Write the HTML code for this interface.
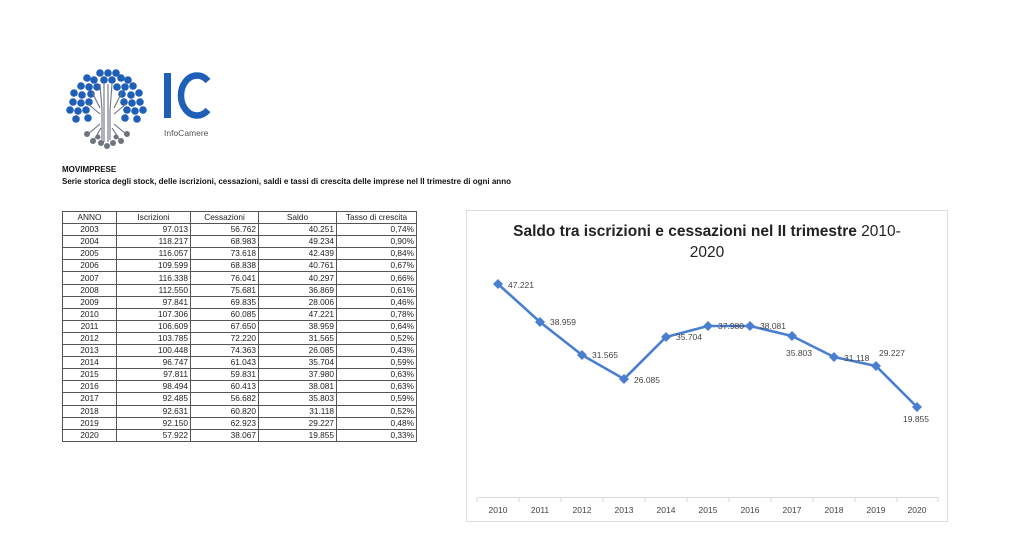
<!DOCTYPE html>
<html><head><meta charset="utf-8"><style>
html,body{margin:0;padding:0;background:#fff;width:1024px;height:553px;overflow:hidden;font-family:"Liberation Sans",sans-serif}
.a{position:absolute}
table{position:absolute;left:62px;top:211px;width:354px;table-layout:fixed;border-collapse:collapse;font-size:8.3px;color:#222}
td{border:1px solid #555;height:11.1px;padding:0 2px;line-height:11px;text-align:right;overflow:hidden;white-space:nowrap}
td:first-child{text-align:center}
tr.h td{text-align:center}
</style></head><body>
<svg class="a" style="left:0;top:0" width="1024" height="553">
<g fill="#1f5fb8">
<circle cx="100" cy="73" r="3.8"/><circle cx="108" cy="73" r="3.8"/><circle cx="116" cy="73" r="3.8"/>
<circle cx="87" cy="78" r="3.8"/><circle cx="94" cy="80" r="3.8"/><circle cx="104" cy="80" r="3.8"/><circle cx="112" cy="80" r="3.8"/><circle cx="121" cy="78" r="3.8"/><circle cx="128" cy="80" r="3.8"/>
<circle cx="81" cy="86" r="3.8"/><circle cx="89" cy="87" r="3.8"/><circle cx="97" cy="87" r="3.8"/><circle cx="117" cy="87" r="3.8"/><circle cx="125" cy="87" r="3.8"/><circle cx="133" cy="86" r="3.8"/>
<circle cx="74" cy="93" r="3.8"/><circle cx="82" cy="95" r="3.8"/><circle cx="91" cy="94" r="3.8"/><circle cx="122" cy="94" r="3.8"/><circle cx="131" cy="95" r="3.8"/><circle cx="139" cy="93" r="3.8"/>
<circle cx="73" cy="102" r="3.8"/><circle cx="81" cy="103" r="3.8"/><circle cx="89" cy="102" r="3.8"/><circle cx="124" cy="102" r="3.8"/><circle cx="132" cy="103" r="3.8"/><circle cx="140" cy="102" r="3.8"/>
<circle cx="70" cy="110" r="3.8"/><circle cx="78" cy="111" r="3.8"/><circle cx="86" cy="110" r="3.8"/><circle cx="127" cy="110" r="3.8"/><circle cx="135" cy="111" r="3.8"/><circle cx="143" cy="110" r="3.8"/>
<circle cx="76" cy="119" r="3.8"/><circle cx="88" cy="118" r="3.8"/><circle cx="125" cy="118" r="3.8"/><circle cx="137" cy="119" r="3.8"/>
</g>
<g stroke="#6d7480" stroke-width="1.1" fill="none">
<path d="M100 84 L102 110 L102 140"/><path d="M104 84 L104 110 L104 142"/><path d="M108 84 L108 110 L108 142"/><path d="M112 84 L110 110 L110 140"/>
<path d="M92 92 L100 108"/><path d="M122 92 L114 108"/><path d="M88 104 L100 114"/><path d="M126 104 L114 114"/>
<path d="M100 124 L88 134"/><path d="M114 124 L126 134"/><path d="M101 128 L94 140"/><path d="M112 128 L120 140"/>
</g>
<g fill="#6d7480">
<circle cx="87" cy="134" r="3"/><circle cx="127" cy="134" r="3"/><circle cx="93" cy="141" r="3"/><circle cx="121" cy="141" r="3"/>
<circle cx="101" cy="143" r="3"/><circle cx="107" cy="146" r="3"/><circle cx="113" cy="143" r="3"/><circle cx="98" cy="137" r="2.5"/><circle cx="116" cy="137" r="2.5"/>
</g>
<rect x="164" y="73" width="7" height="45" fill="#1f5fb8"/>
<path d="M208 81 A16 20 0 1 0 208 110" fill="none" stroke="#1f5fb8" stroke-width="6.5"/>
<text x="164" y="136" font-size="8.5" fill="#555">InfoCamere</text>
<text x="62" y="172" font-size="8" font-weight="bold" fill="#111">MOVIMPRESE</text>
<text x="62" y="184" font-size="8" font-weight="bold" fill="#111" textLength="449" lengthAdjust="spacingAndGlyphs">Serie storica degli stock, delle iscrizioni, cessazioni, saldi e tassi di crescita delle imprese nel II trimestre di ogni anno</text>

<rect x="466.5" y="210.5" width="481" height="311" fill="#fff" stroke="#ddd"/>
<text x="707" y="236" font-size="15.5" text-anchor="middle" fill="#222"><tspan font-weight="bold">Saldo tra iscrizioni e cessazioni nel II trimestre</tspan> 2010-</text>
<text x="707" y="257" font-size="15.5" text-anchor="middle" fill="#222">2020</text>
<line x1="477" y1="497.5" x2="938" y2="497.5" stroke="#d9d9d9"/>
<g stroke="#d9d9d9">
<line x1="477" y1="497" x2="477" y2="502"/><line x1="519" y1="497" x2="519" y2="502"/><line x1="561" y1="497" x2="561" y2="502"/><line x1="603" y1="497" x2="603" y2="502"/><line x1="645" y1="497" x2="645" y2="502"/><line x1="687" y1="497" x2="687" y2="502"/><line x1="729" y1="497" x2="729" y2="502"/><line x1="771" y1="497" x2="771" y2="502"/><line x1="813" y1="497" x2="813" y2="502"/><line x1="855" y1="497" x2="855" y2="502"/><line x1="897" y1="497" x2="897" y2="502"/><line x1="938" y1="497" x2="938" y2="502"/>
</g>
<g font-size="8.5" fill="#444" text-anchor="middle">
<text x="498" y="513">2010</text><text x="540" y="513">2011</text><text x="582" y="513">2012</text><text x="624" y="513">2013</text><text x="666" y="513">2014</text><text x="708" y="513">2015</text><text x="750" y="513">2016</text><text x="792" y="513">2017</text><text x="834" y="513">2018</text><text x="876" y="513">2019</text><text x="917" y="513">2020</text>
</g>
<polyline points="498,284 540,322 582,355 624,379 666,337 708,326 750,326 792,336 834,357 876,366 917,407" fill="none" stroke="#4a7fcf" stroke-width="2.6" stroke-linejoin="round"/>
<g fill="#4a7fcf">
<path d="M498 279l5 5-5 5-5-5z"/><path d="M540 317l5 5-5 5-5-5z"/><path d="M582 350l5 5-5 5-5-5z"/><path d="M624 374l5 5-5 5-5-5z"/><path d="M666 332l5 5-5 5-5-5z"/><path d="M708 321l5 5-5 5-5-5z"/><path d="M750 321l5 5-5 5-5-5z"/><path d="M792 331l5 5-5 5-5-5z"/><path d="M834 352l5 5-5 5-5-5z"/><path d="M876 361l5 5-5 5-5-5z"/><path d="M917 402l5 5-5 5-5-5z"/>
</g>
<g font-size="8.5" fill="#444">
<text x="508" y="288">47.221</text><text x="550" y="325">38.959</text><text x="592" y="358">31.565</text><text x="634" y="383">26.085</text><text x="676" y="340">35.704</text><text x="718" y="329">37.980</text><text x="760" y="329">38.081</text><text x="786" y="356">35.803</text><text x="844" y="361">31.118</text><text x="879" y="356">29.227</text><text x="903" y="422">19.855</text>
</g>
</svg>
<table>
<colgroup><col style="width:54px"><col style="width:74px"><col style="width:68px"><col style="width:78px"><col style="width:80px"></colgroup>
<tr class="h"><td>ANNO</td><td style="text-align:center">Iscrizioni</td><td style="text-align:center">Cessazioni</td><td style="text-align:center">Saldo</td><td style="text-align:center">Tasso di crescita</td></tr>
<tr><td>2003</td><td>97.013</td><td>56.762</td><td>40.251</td><td>0,74%</td></tr>
<tr><td>2004</td><td>118.217</td><td>68.983</td><td>49.234</td><td>0,90%</td></tr>
<tr><td>2005</td><td>116.057</td><td>73.618</td><td>42.439</td><td>0,84%</td></tr>
<tr><td>2006</td><td>109.599</td><td>68.838</td><td>40.761</td><td>0,67%</td></tr>
<tr><td>2007</td><td>116.338</td><td>76.041</td><td>40.297</td><td>0,66%</td></tr>
<tr><td>2008</td><td>112.550</td><td>75.681</td><td>36.869</td><td>0,61%</td></tr>
<tr><td>2009</td><td>97.841</td><td>69.835</td><td>28.006</td><td>0,46%</td></tr>
<tr><td>2010</td><td>107.306</td><td>60.085</td><td>47.221</td><td>0,78%</td></tr>
<tr><td>2011</td><td>106.609</td><td>67.650</td><td>38.959</td><td>0,64%</td></tr>
<tr><td>2012</td><td>103.785</td><td>72.220</td><td>31.565</td><td>0,52%</td></tr>
<tr><td>2013</td><td>100.448</td><td>74.363</td><td>26.085</td><td>0,43%</td></tr>
<tr><td>2014</td><td>96.747</td><td>61.043</td><td>35.704</td><td>0,59%</td></tr>
<tr><td>2015</td><td>97.811</td><td>59.831</td><td>37.980</td><td>0,63%</td></tr>
<tr><td>2016</td><td>98.494</td><td>60.413</td><td>38.081</td><td>0,63%</td></tr>
<tr><td>2017</td><td>92.485</td><td>56.682</td><td>35.803</td><td>0,59%</td></tr>
<tr><td>2018</td><td>92.631</td><td>60.820</td><td>31.118</td><td>0,52%</td></tr>
<tr><td>2019</td><td>92.150</td><td>62.923</td><td>29.227</td><td>0,48%</td></tr>
<tr><td>2020</td><td>57.922</td><td>38.067</td><td>19.855</td><td>0,33%</td></tr>
</table>
</body></html>
